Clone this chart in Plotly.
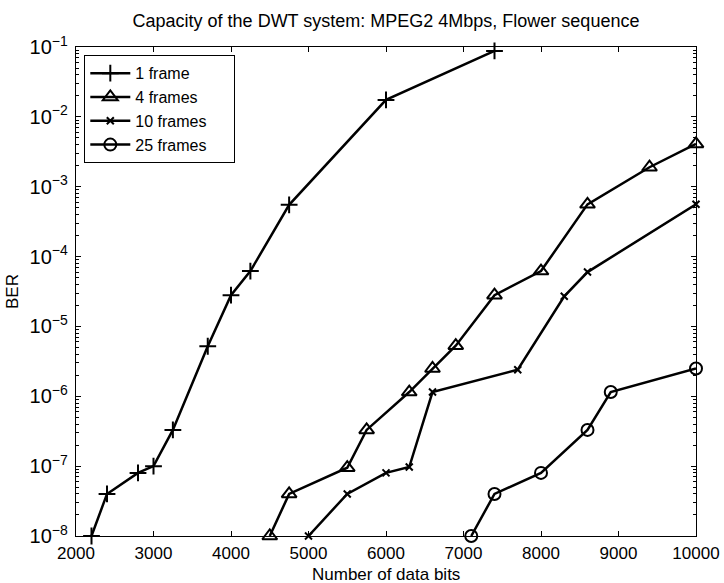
import plotly.graph_objects as go

# Number of data bits embedded per test point
frames1_x = [2200, 2400, 2800, 3000, 3250, 3700, 4000, 4250, 4750, 6000, 7400]
frames1_y = [1e-8, 4e-8, 8e-8, 1e-7, 3.3e-7, 5.2e-6, 2.8e-5, 6.2e-5, 5.5e-4, 1.75e-2, 8.8e-2]

frames4_x = [4500, 4750, 5500, 5750, 6300, 6600, 6900, 7400, 8000, 8600, 9400, 10000]
frames4_y = [1e-8, 4e-8, 9.5e-8, 3.3e-7, 1.15e-6, 2.5e-6, 5.3e-6, 2.8e-5, 6.2e-5, 5.6e-4, 1.9e-3, 4.1e-3]

frames10_x = [5000, 5500, 6000, 6300, 6600, 7700, 8300, 8600, 10000]
frames10_y = [1e-8, 4e-8, 8e-8, 9.7e-8, 1.15e-6, 2.4e-6, 2.7e-5, 6e-5, 5.6e-4]

frames25_x = [7100, 7400, 8000, 8600, 8900, 10000]
frames25_y = [1e-8, 4e-8, 8e-8, 3.3e-7, 1.15e-6, 2.5e-6]

series = [
    ("1 frame", frames1_x, frames1_y, "cross-thin", 12),
    ("4 frames", frames4_x, frames4_y, "triangle-up-open", 13),
    ("10 frames", frames10_x, frames10_y, "x-thin", 7),
    ("25 frames", frames25_x, frames25_y, "circle-open", 12),
]

FONT = "Liberation Sans, Arial, Helvetica, sans-serif"
PAD = "\u00a0" * 5  # extra room on the right side of the legend box
W, H = 724, 583
M_L, M_R, M_T, M_B = 76, 28, 47, 47

fig = go.Figure()
for name, xs, ys, sym, size in series:
    fig.add_trace(go.Scatter(
        x=xs, y=ys, name=name + PAD, mode="lines+markers",
        line=dict(color="black", width=2.5),
        marker=dict(symbol=sym, size=size, color="black",
                    line=dict(color="black", width=2)),
        cliponaxis=False,
    ))

axis_common = dict(
    showline=True, linecolor="black", linewidth=1, mirror="ticks",
    ticks="inside", ticklen=5, tickcolor="black", showgrid=False,
    zeroline=False, automargin=False,
)

fig.update_xaxes(
    range=[2000, 10000], dtick=1000, tick0=2000, tickformat="d",
    tickfont=dict(family=FONT, size=17, color="black"),
    ticklabelstandoff=2,
    **axis_common,
)
fig.update_yaxes(
    type="log", range=[-8, -1], dtick=1, exponentformat="power",
    tickfont=dict(family=FONT, size=16, color="black"),
    minor=dict(ticks="inside", ticklen=3, tickcolor="black", showgrid=False),
    title=dict(text="BER", font=dict(family=FONT, size=17, color="black"), standoff=6),
    ticklabelstandoff=4,
    **axis_common,
)

# x-axis caption placed below the tick labels (centre at 574 px from the top)
plot_h = H - M_T - M_B
fig.add_annotation(
    text="Number of data bits", showarrow=False,
    xref="paper", x=0.5, xanchor="center",
    yref="paper", y=(H - M_B - 574) / plot_h, yanchor="middle",
    font=dict(family=FONT, size=17, color="black"),
)

fig.update_layout(
    width=W, height=H,
    margin=dict(l=M_L, r=M_R, t=M_T, b=M_B),
    paper_bgcolor="white", plot_bgcolor="white",
    title=dict(
        text="Capacity of the DWT system: MPEG2 4Mbps, Flower sequence",
        font=dict(family=FONT, size=18, color="black"),
        x=0.5, xref="paper", xanchor="center",
        y=1 - 21 / H, yref="container", yanchor="middle",
    ),
    legend=dict(
        x=0.0134, y=0.983, xanchor="left", yanchor="top",
        bgcolor="white", bordercolor="black", borderwidth=1,
        font=dict(family=FONT, size=16, color="black"),
        itemwidth=40,
    ),
    showlegend=True,
)

fig.write_html("out.html")
